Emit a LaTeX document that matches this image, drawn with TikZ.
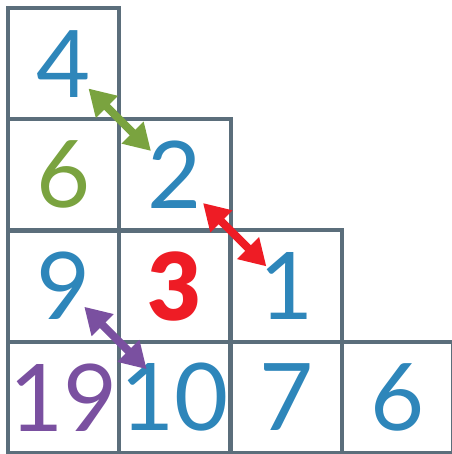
\documentclass[tikz,border=0pt]{standalone}
\usepackage{fontspec}
\setmainfont{Lato}
\newfontfamily\boldnum{Lato Black}
\usetikzlibrary{arrows.meta}

\definecolor{gridgray}{HTML}{5B6E7B}
\definecolor{numblue}{HTML}{2E86BA}
\definecolor{numgreen}{HTML}{7AA33F}
\definecolor{numred}{HTML}{EE1C25}
\definecolor{numpurple}{HTML}{7A50A0}

\tikzset{every picture/.style={line width=0.75pt}}
\tikzset{
  cell/.style={draw=gridgray, line width=3pt, minimum size=83.44pt, inner sep=0pt,
    text=numblue, font=\fontsize{70}{70}\selectfont},
  swaparrow/.style={line width=6pt,
    {Triangle[length=19.5pt,width=22pt]}-{Triangle[length=19.5pt,width=22pt]}},
}

\begin{document}
\begin{tikzpicture}[x=0.75pt,y=0.75pt,yscale=-1,xscale=1]
\useasboundingbox (0,0) rectangle (452,454);

%Row 1
\node[cell] (c11) at (63.6,63.6) {4};
%Row 2
\node[cell, text=numgreen] (c21) at (63.6,174.9) {6};
\node[cell] (c22) at (174.9,174.9) {2};
%Row 3
\node[cell] (c31) at (63.6,286.1) {9};
\node[cell, text=numred] (c32) at (174.9,286.1) {\boldnum 3};
\node[cell] (c33) at (286.1,286.1) {1};
%Row 4
\node[cell, text=numpurple] (c41) at (63.6,397.4) {19};
\node[cell] (c42) at (174.9,397.4) {10};
\node[cell] (c43) at (286.1,397.4) {7};
\node[cell] (c44) at (397.4,397.4) {6};

%Swaps
\draw[swaparrow, color=numgreen, shorten <=26.4pt, shorten >=25.4pt] (c11.center) -- (c22.center);
\draw[swaparrow, color=numred, shorten <=29.8pt, shorten >=20.9pt] (c22.center) -- (c33.center);
\draw[swaparrow, color=numpurple, shorten <=21.9pt, shorten >=29.9pt] (c31.center) -- (c42.center);

\end{tikzpicture}
\end{document}
